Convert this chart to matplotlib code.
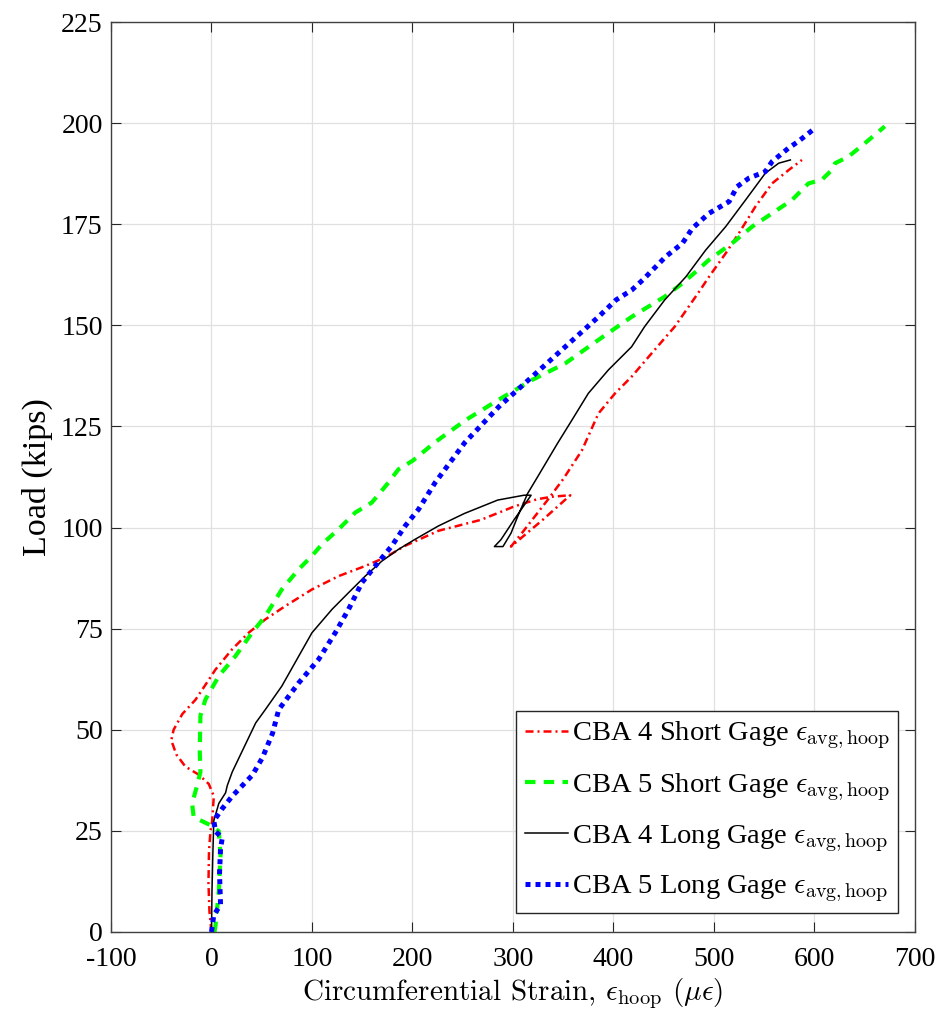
import numpy as np
import matplotlib
matplotlib.use("Agg")
import matplotlib.pyplot as plt
from matplotlib.ticker import FixedLocator, FuncFormatter

# CBA 4 short gage (red, dash-dot)
cba4_short_x = [0, -2, -3, -2.5, -1, 0.7, 2.3, -2.7, -12.7, -26, -35, -40, -37.7, -29, -16, -5, 4,
                20.5, 37, 53.6, 73.5, 100, 126.5, 153, 172.8, 192.7, 225.8, 268, 301, 324, 338, 357, 330,
                298, 310, 335, 350, 368.6, 385, 401.6, 418, 438, 461, 484, 495, 511.6, 524.8, 541.3,
                557.8, 574.3, 587.5]
cba4_short_y = [0, 5, 12, 20, 25, 27.5, 33.6, 36.6, 38.9, 40.9, 43.9, 47.4, 50, 53.9, 57.4, 61.5, 64.9,
                69.9, 74, 77.3, 80.6, 84.7, 88, 90.5, 92.6, 95.5, 99.2, 101.9, 105.2, 107, 107.6, 108, 102,
                95.3, 99, 107, 112, 119.1, 128.2, 133.2, 137.3, 143.1, 149.7, 157.9, 162, 167.8, 172.8, 179.4,
                185.1, 188.4, 190.9]

# CBA 5 short gage (green, dashed)
cba5_short_x = [3, 4, 7.3, 9, 7.3, 0.7, -17.7, -19.3, -14.3, -11, -11.7, -11, -6, 7.3, 23.8, 40.4, 53.6,
                70, 86.8, 100, 110, 126.5, 143, 159.6, 176, 186, 200, 223, 253, 285, 319, 352, 385, 418,
                451, 468.6, 484, 495, 518, 537.9, 557.8, 577.6, 594, 607.3, 617.2, 620.5, 633.7, 650, 670]
cba5_short_y = [0, 1.6, 10.2, 18.9, 24.9, 26.2, 28.4, 31.8, 36.2, 39.6, 44.8, 53.5, 57.5, 63.3, 68.2, 74,
                78.1, 84.7, 89.7, 93, 95.9, 99.6, 103.7, 106.2, 111.1, 114.4, 116.5, 121.2, 126.6, 131.5,
                136.5, 140.6, 146.4, 152.1, 157.1, 160.4, 163.7, 166.2, 170.3, 174.4, 177.7, 181, 185.1, 186,
                188.4, 190.1, 191.7, 195, 199.2]

# CBA 4 long gage (black, solid)
cba4_long_x = [0, 0.5, 1.3, 2.3, 7.3, 14, 15.7, 20.7, 30.7, 44, 53.6, 70, 86.8, 100, 120, 136.4, 153,
               169.5, 186, 202.6, 225.8, 251.8, 284.8, 311, 318, 301, 288, 281.5, 290, 298, 304.6, 314.5,
               324.4, 344, 358.7, 375, 395, 418, 431, 451, 472, 491.7, 511.6, 531.4, 551, 564.4, 576]
cba4_long_y = [0, 10, 18.9, 27.5, 31.8, 34.4, 36.2, 39.6, 44.8, 51.7, 55, 60.8, 68.2, 74, 79.8, 83.9, 88,
               91.7, 94.6, 97.1, 100.4, 103.5, 106.8, 108, 108, 101.9, 97, 95.3, 95.3, 98.6, 102.7, 108.4,
               112.5, 120.7, 126.6, 133.2, 139, 144.7, 149.7, 156.3, 162, 168.6, 174.4, 181, 187.6, 190.1,
               190.9]

# CBA 5 long gage (blue, dotted)
cba5_long_x = [0, 2.3, 9, 8, 9, 10.7, 4, 2.3, 10.7, 20.7, 30.7, 40.7, 50.7, 60.7, 66.9, 86.8, 106.6,
               123.2, 136.4, 149.7, 163, 179.5, 192.7, 206, 222.5, 252, 286, 319, 352, 385, 402.6, 418,
               429, 452, 468.6, 478.5, 495, 515, 523, 534.7, 551, 557.8, 574, 584, 600.7]
cba5_long_y = [0, 4.2, 6.7, 14.5, 20.6, 23.2, 24.9, 27.5, 30.5, 33.6, 36.2, 38.8, 43.1, 49.1, 55, 61.6,
               67.4, 74, 79.8, 86.4, 90.5, 95.5, 100.4, 104.5, 111.1, 121, 129.9, 137.3, 144.7, 152.1,
               156.3, 158.7, 161.2, 167, 170.3, 174, 177.7, 180.6, 184.3, 186.4, 188, 190.5, 193.8, 195.5,
               198.8]

x_ticks = [-100, 0, 100, 200, 300, 400, 500, 600, 700]
y_ticks = [0, 25, 50, 75, 100, 125, 150, 175, 200, 225]

plt.rcParams['font.family'] = ['Liberation Serif', 'DejaVu Serif']
plt.rcParams['mathtext.fontset'] = 'cm'
plt.rcParams['axes.unicode_minus'] = False

fig = plt.figure(figsize=(9.43, 10.16), dpi=100)
ax = fig.add_axes([0.1177, 0.0827, 0.8526, 0.8956])

ax.plot(cba4_short_x, cba4_short_y, color='#ff0000', lw=1.8, dashes=(3.2, 1.6, 0.8, 1.6),
        label=r'CBA 4 Short Gage $\epsilon_{\mathrm{avg,hoop}}$')
ax.plot(cba5_short_x, cba5_short_y, color='#00ff00', lw=3.0, dashes=(2.5, 2.0),
        label=r'CBA 5 Short Gage $\epsilon_{\mathrm{avg,hoop}}$')
ax.plot(cba4_long_x, cba4_long_y, color='black', lw=1.1, ls='-',
        label=r'CBA 4 Long Gage $\epsilon_{\mathrm{avg,hoop}}$')
ax.plot(cba5_long_x, cba5_long_y, color='#0000ff', lw=3.6, dashes=(1.0, 1.0),
        label=r'CBA 5 Long Gage $\epsilon_{\mathrm{avg,hoop}}$')

ax.set_xlim(-100, 700)
ax.set_ylim(0, 225)
ax.xaxis.set_major_locator(FixedLocator(x_ticks))
ax.yaxis.set_major_locator(FixedLocator(y_ticks))
ax.xaxis.set_major_formatter(FuncFormatter(lambda v, p: '%d' % v))
ax.yaxis.set_major_formatter(FuncFormatter(lambda v, p: '%d' % v))
ax.tick_params(direction='in', length=7, width=0.8, top=True, right=True,
               labelsize=20, colors='0.15', pad=6)
ax.tick_params(axis='x', pad=11)
ax.tick_params(labelcolor='black')
ax.grid(True, color='0.88', lw=0.9)
ax.set_axisbelow(True)
for s in ax.spines.values():
    s.set_color('0.25')
    s.set_linewidth(1.0)

ax.set_ylabel('Load (kips)', fontsize=24.5, labelpad=6)
ax.set_xlabel(r'Circumferential Strain, $\epsilon_{\mathrm{hoop}}$ $(\mu\epsilon)$',
              fontsize=21, family='cmr10', labelpad=3)

leg = ax.legend(loc='lower right', bbox_to_anchor=(0.979, 0.021), borderaxespad=0,
                fontsize=20.5, handlelength=1.5, handletextpad=0.15, labelspacing=0.7,
                fancybox=False, framealpha=1, borderpad=0.3)
leg.get_frame().set_edgecolor('0.15')
leg.get_frame().set_linewidth(1.0)

fig.savefig('out.png', dpi=100)
